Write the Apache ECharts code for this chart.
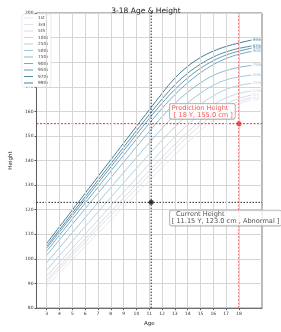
<!DOCTYPE html>
<html>
<head>
<meta charset="utf-8">
<script src="https://cdn.jsdelivr.net/npm/echarts@6/dist/echarts.min.js"></script>
<style>
  html, body { margin: 0; padding: 0; background: #fff; }
  #chart { width: 281px; height: 332px; }
</style>
</head>
<body>
<div id="chart"></div>
<script>
// ages on the x axis (curves run one year past the last tick)
const ages = [3, 4, 5, 6, 7, 8, 9, 10, 11, 12, 13, 14, 15, 16, 17, 18, 19];
const xTicks = [3, 4, 5, 6, 7, 8, 9, 10, 11, 12, 13, 14, 15, 16, 17, 18];
const xRange = [2.2, 19.8];
const yRange = [80, 200];

// percentile heights (cm)
const p1  = [89.0, 94.4, 99.7, 105.1, 110.4, 115.8, 121.1, 126.5, 131.8, 137.1, 142.3, 147.4, 152.2, 156.6, 160.4, 163.0, 164.8];
const p3  = [90.5, 95.9, 101.4, 106.8, 112.3, 117.7, 123.2, 128.6, 134.0, 139.4, 144.7, 149.8, 154.4, 158.4, 161.6, 164.0, 165.6];
const p5  = [91.5, 97.0, 102.6, 108.1, 113.7, 119.2, 124.8, 130.3, 135.8, 141.3, 146.6, 151.6, 156.1, 159.9, 163.0, 165.2, 166.7];
const p10 = [93.0, 98.7, 104.4, 110.1, 115.8, 121.5, 127.2, 132.9, 138.6, 144.2, 149.6, 154.6, 159.0, 162.7, 165.5, 167.3, 168.3];
const p25 = [95.5, 101.4, 107.3, 113.2, 119.1, 125.0, 130.9, 136.8, 142.6, 148.3, 153.7, 158.6, 162.8, 166.3, 168.9, 170.5, 171.4];
const p50 = [98.5, 104.6, 110.7, 116.8, 122.9, 129.0, 135.1, 141.2, 147.2, 153.1, 158.6, 163.4, 167.4, 170.6, 172.8, 174.0, 174.8];
const p75 = [101.5, 107.8, 114.1, 120.4, 126.7, 133.0, 139.3, 145.6, 151.8, 157.8, 163.2, 167.8, 171.6, 174.6, 176.6, 177.9, 178.7];
const p90 = [103.2, 109.7, 116.2, 122.7, 129.2, 135.7, 142.2, 148.7, 155.1, 161.2, 166.8, 171.6, 175.7, 179.0, 181.5, 183.2, 184.4];
const p95 = [104.4, 111.0, 117.6, 124.2, 130.8, 137.4, 144.0, 150.6, 157.1, 163.3, 168.9, 173.6, 177.5, 180.6, 182.9, 184.5, 185.7];
const p97 = [105.2, 111.9, 118.6, 125.3, 132.0, 138.7, 145.4, 152.1, 158.7, 165.0, 170.8, 175.5, 179.2, 182.1, 184.2, 185.6, 186.6];
const p99 = [106.3, 113.1, 119.9, 126.7, 133.5, 140.3, 147.1, 153.9, 160.6, 167.3, 173.5, 178.3, 181.9, 184.5, 186.4, 187.8, 189.0];

const percentileNames = ['1st', '3rd', '5th', '10th', '25th', '50th', '75th', '90th', '95th', '97th', '99th'];
const percentileRows = [p1, p3, p5, p10, p25, p50, p75, p90, p95, p97, p99];

// the child
const currentAge = 11.15;
const currentHeight = 123.0;
const currentStatus = 'Abnormal';
const predAge = 18;
const predHeight = 155.0;

// where the two note boxes sit (left edge age, middle height)
const currentNoteAt = [12.6, 116.6];
const predNoteAt = [12.6, 160.0];

const lineColors = ['#e8e8ee', '#e0e1ea', '#d6dbe8', '#c9dae6', '#b3d2e2', '#9fc8dc', '#89b9d0', '#75aac3', '#6399b4', '#538ba6', '#447c96'];

const font = 'DejaVu Sans';
const chart = echarts.init(document.getElementById('chart'));

const curveSeries = percentileRows.map((row, i) => ({
    name: percentileNames[i],
    type: 'line',
    data: ages.map((a, j) => [a, row[j]]),
    smooth: 0.4,
    symbol: 'none',
    z: 3,
    lineStyle: { color: lineColors[i], width: 1 },
    itemStyle: { color: lineColors[i] },
    endLabel: {
        show: true,
        formatter: '{a}',
        fontSize: 3.8,
        fontFamily: font,
        color: lineColors[i],
        distance: 1
    }
}));

// straight guide lines drawn as two-point series across the axis range
const guide = (pts, color, dash) => ({
    type: 'line',
    data: pts,
    symbol: 'none',
    silent: true,
    z: 4,
    lineStyle: { color: color, type: dash, width: 1 },
    itemStyle: { color: color }
});

const noteLabel = (text, color) => ({
    show: true,
    position: 'right',
    distance: 0,
    formatter: text,
    fontSize: 6.6,
    lineHeight: 7,
    fontFamily: font,
    color: color,
    backgroundColor: '#fff',
    borderColor: '#999',
    borderWidth: 0.8,
    borderRadius: 2,
    padding: [1, 2, 0, 2]
});

let option = {
    animation: false,
    backgroundColor: '#fff',
    title: {
        text: '3-18 Age & Height',
        left: 141,
        textAlign: 'center',
        top: 2,
        textStyle: { fontSize: 7.5, fontWeight: 'normal', color: '#222', fontFamily: font }
    },
    legend: {
        data: percentileNames,
        orient: 'vertical',
        left: 22,
        top: 14,
        icon: 'rect',
        itemWidth: 9,
        itemHeight: 1,
        itemGap: 2.5,
        padding: [2, 3, 2, 2],
        backgroundColor: '#fff',
        borderColor: '#ddd',
        borderWidth: 0.6,
        borderRadius: 2,
        textStyle: { fontSize: 4.3, color: '#444', fontFamily: font }
    },
    grid: {
        left: 20,
        right: 19,
        top: 13,
        bottom: 14,
        show: true,
        borderColor: '#555',
        borderWidth: 0.8
    },
    xAxis: {
        type: 'value',
        min: xRange[0],
        max: xRange[1],
        name: 'Age',
        nameLocation: 'middle',
        nameGap: 9,
        nameTextStyle: { fontSize: 5.5, color: '#222', fontFamily: font },
        axisLine: { show: true, lineStyle: { color: '#555', width: 0.8 } },
        axisTick: { show: true, customValues: xTicks, length: 2, lineStyle: { color: '#555' } },
        axisLabel: { customValues: xTicks, fontSize: 4.5, color: '#333', fontFamily: font, margin: 3 },
        splitLine: { show: false }
    },
    yAxis: {
        type: 'value',
        min: yRange[0],
        max: yRange[1],
        interval: 10,
        name: 'Height',
        nameLocation: 'middle',
        nameGap: 11,
        nameTextStyle: { fontSize: 5.5, color: '#222', fontFamily: font },
        axisLine: { show: true, lineStyle: { color: '#555', width: 0.8 } },
        axisTick: { show: true, length: 2, lineStyle: { color: '#555' } },
        axisLabel: { fontSize: 4.5, color: '#333', fontFamily: font, margin: 3 },
        splitLine: { show: true, lineStyle: { color: '#d6d6d6', width: 1 } }
    },
    series: [
        {
            // vertical grid at the integer ages
            type: 'line',
            data: [],
            z: 1,
            markLine: {
                silent: true,
                symbol: 'none',
                label: { show: false },
                lineStyle: { color: '#d6d6d6', type: 'solid', width: 1 },
                data: xTicks.map(v => ({ xAxis: v }))
            }
        },
        ...curveSeries,
        guide([[currentAge, yRange[0]], [currentAge, yRange[1]]], '#222', [1.5, 1.5]),
        guide([[xRange[0], currentHeight], [xRange[1], currentHeight]], '#222', [1.5, 1.5]),
        guide([[predAge, yRange[0]], [predAge, yRange[1]]], '#ee2a2a', [2, 1.5]),
        guide([[xRange[0], predHeight], [xRange[1], predHeight]], '#ee2a2a', [2, 1.5]),
        {
            type: 'scatter',
            data: [[currentAge, currentHeight]],
            symbolSize: 5,
            z: 6,
            itemStyle: { color: '#111' }
        },
        {
            type: 'scatter',
            data: [[predAge, predHeight]],
            symbolSize: 5,
            z: 6,
            itemStyle: { color: '#ee2a2a' }
        },
        {
            type: 'scatter',
            data: [currentNoteAt],
            symbolSize: 0,
            z: 7,
            label: noteLabel('  Current Height\n[ ' + currentAge + ' Y, ' + currentHeight.toFixed(1) + ' cm , ' + currentStatus + ' ]', '#222')
        },
        {
            type: 'scatter',
            data: [predNoteAt],
            symbolSize: 0,
            z: 7,
            label: noteLabel('Prediction Height\n [ ' + predAge + ' Y, ' + predHeight.toFixed(1) + ' cm ]', '#ee2a2a')
        }
    ]
};
chart.setOption(option);
</script>
</body>
</html>
